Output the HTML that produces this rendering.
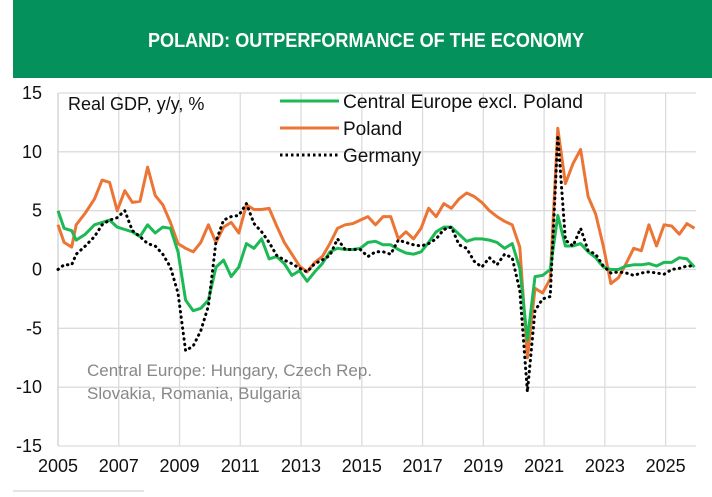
<!DOCTYPE html>
<html><head><meta charset="utf-8">
<style>
body{margin:0;background:#fff;width:712px;height:492px;overflow:hidden;font-family:"Liberation Sans Narrow","Liberation Sans",sans-serif;}
</style></head>
<body>
<svg width="712" height="492" xmlns="http://www.w3.org/2000/svg">
<rect x="13" y="0" width="699" height="78" fill="#05915B"/>
<text x="148" y="47" fill="#fff" font-size="20" font-weight="bold" textLength="436" lengthAdjust="spacingAndGlyphs" font-family="Liberation Sans Narrow, Liberation Sans, sans-serif">POLAND: OUTPERFORMANCE OF THE ECONOMY</text>
<g id="grid"></g>
<g id="axes"></g>
<g id="series"></g>
<text x="68" y="110" font-size="18" fill="#111">Real GDP, y/y, %</text>
<g>
<line x1="280" y1="101" x2="339" y2="101" stroke="#1DB954" stroke-width="3"/>
<text x="343" y="108" font-size="19" fill="#111" textLength="240" lengthAdjust="spacingAndGlyphs">Central Europe excl. Poland</text>
<line x1="280" y1="128" x2="339" y2="128" stroke="#EC7535" stroke-width="3"/>
<text x="343" y="135" font-size="19" fill="#111">Poland</text>
<line x1="280" y1="155" x2="339" y2="155" stroke="#000" stroke-width="3" stroke-dasharray="2.5 3"/>
<text x="343" y="162" font-size="19" fill="#111">Germany</text>
</g>
<text x="87" y="376" font-size="17" fill="#888">Central Europe: Hungary, Czech Rep.</text>
<text x="87" y="399" font-size="17" fill="#888">Slovakia, Romania, Bulgaria</text>
<rect x="13" y="490" width="131" height="2" fill="#e4e4e4"/>
</svg>
<script>
const yTicks=[15,10,5,0,-5,-10,-15];
const xTicks=[2005,2007,2009,2011,2013,2015,2017,2019,2021,2023,2025];
const dates=[2005.0,2005.2,2005.45,2005.6,2005.9,2006.2,2006.45,2006.7,2006.95,2007.2,2007.45,2007.7,2007.95,2008.2,2008.45,2008.7,2008.95,2009.2,2009.45,2009.7,2009.95,2010.2,2010.45,2010.7,2010.95,2011.2,2011.45,2011.7,2011.95,2012.2,2012.45,2012.7,2012.95,2013.2,2013.45,2013.7,2013.95,2014.2,2014.45,2014.7,2014.95,2015.2,2015.45,2015.7,2015.95,2016.2,2016.45,2016.7,2016.95,2017.2,2017.45,2017.7,2017.95,2018.2,2018.45,2018.7,2018.95,2019.2,2019.45,2019.7,2019.95,2020.2,2020.45,2020.7,2020.95,2021.2,2021.45,2021.7,2021.95,2022.2,2022.45,2022.7,2022.95,2023.2,2023.45,2023.7,2023.95,2024.2,2024.45,2024.7,2024.95,2025.2,2025.45,2025.7,2025.95];
const poland=[3.8,2.3,1.9,3.8,4.8,6.0,7.6,7.4,5.0,6.7,5.7,5.8,8.7,6.3,5.5,4.0,2.2,1.8,1.5,2.3,3.8,2.3,3.6,4.0,3.1,5.5,5.1,5.1,5.2,3.7,2.3,1.3,0.3,-0.2,0.6,1.1,2.2,3.5,3.8,3.9,4.2,4.5,3.8,4.5,4.5,2.6,3.2,2.6,3.5,5.2,4.5,5.6,5.2,6.0,6.5,6.2,5.7,5.0,4.5,4.1,3.8,1.9,-7.5,-1.6,-2.0,-0.8,12.0,7.3,9.0,10.2,6.2,4.7,2.0,-1.2,-0.7,0.5,1.8,1.6,3.8,2.0,3.8,3.7,3.0,3.9,3.5];
const centralEurope=[5.0,3.5,3.3,2.5,3.0,3.8,4.0,4.2,3.6,3.4,3.2,2.8,3.8,3.1,3.6,3.5,1.5,-2.6,-3.5,-3.3,-2.6,0.2,0.8,-0.6,0.2,2.2,1.8,2.6,0.9,1.1,0.5,-0.5,-0.1,-1.0,-0.2,0.5,1.5,1.8,1.7,1.7,1.8,2.3,2.4,2.1,2.1,1.7,1.4,1.3,1.5,2.3,3.2,3.6,3.6,3.0,2.4,2.6,2.6,2.5,2.3,1.8,2.2,0.1,-6.0,-0.6,-0.5,0.0,4.6,2.0,2.0,2.2,1.5,1.0,0.2,0.0,0.0,0.3,0.4,0.4,0.5,0.3,0.6,0.6,1.0,0.9,0.2];
const germany=[0.0,0.4,0.4,1.3,2.0,2.8,3.8,4.2,4.4,5.0,3.3,2.8,2.2,2.0,1.3,0.2,-2.0,-6.9,-6.5,-5.2,-3.1,2.4,4.2,4.5,4.6,5.6,3.9,3.2,2.3,1.2,0.8,0.5,0.1,-0.2,0.5,0.8,1.2,2.6,1.7,1.7,1.7,1.1,1.5,1.5,1.3,2.5,2.3,2.1,2.0,2.2,2.6,3.4,3.6,2.1,1.8,0.7,0.2,1.0,0.4,1.3,1.0,-1.8,-10.4,-3.5,-2.5,-2.3,11.4,2.5,2.0,3.5,1.6,1.3,0.3,-0.3,-0.2,-0.3,-0.5,-0.3,-0.2,-0.3,-0.4,0.0,0.1,0.3,0.3];
const NS='http://www.w3.org/2000/svg';
const X0=58,X1=696,Y0=93,Y1=446;
const xs=v=>X0+(v-2005)/(2026-2005)*(X1-X0);
const ys=v=>Y0+(15-v)/30*(Y1-Y0);
function mk(tag,attrs,parent){const e=document.createElementNS(NS,tag);for(const k in attrs)e.setAttribute(k,attrs[k]);parent.appendChild(e);return e;}
const grid=document.getElementById('grid'),axes=document.getElementById('axes'),ser=document.getElementById('series');
yTicks.forEach(t=>{
  const l=mk('line',{x1:X0,x2:X1,y1:ys(t),y2:ys(t),stroke:'#dcdcdc','stroke-width':1.3},grid);
  
  
  const tx=mk('text',{x:42,y:ys(t)+6,'font-size':18,fill:'#111','text-anchor':'end'},axes);
  tx.textContent=t;
  
  
});
xTicks.forEach(t=>{
  if(t>2005){const l=mk('line',{x1:xs(t),x2:xs(t),y1:Y0,y2:Y1,stroke:'#dcdcdc','stroke-width':1.3},grid);
  
  }
  const tx=mk('text',{x:xs(t),y:472,'font-size':18,fill:'#111','text-anchor':'middle'},axes);
  tx.textContent=t;
  
  
});
const ax=mk('line',{x1:X0,x2:X0,y1:Y0,y2:Y1,stroke:'#d0d0d0','stroke-width':1.3},axes);


function line(vals,color,dash,name){
  const d=vals.map((v,i)=>(i?'L':'M')+xs(dates[i]).toFixed(1)+','+ys(v).toFixed(1)).join(' ');
  const a={d:d,fill:'none',stroke:color,'stroke-width':3,'stroke-linejoin':'round'};
  if(dash){a['stroke-dasharray']=dash;a['stroke-linecap']='round';}
  const p=mk('path',a,ser);
  
  
}
line(poland,'#EC7535',null,'poland-line');
line(centralEurope,'#1DB954',null,'central-europe-line');
line(germany,'#000','0.5 5','germany-line');
</script>
</body></html>
